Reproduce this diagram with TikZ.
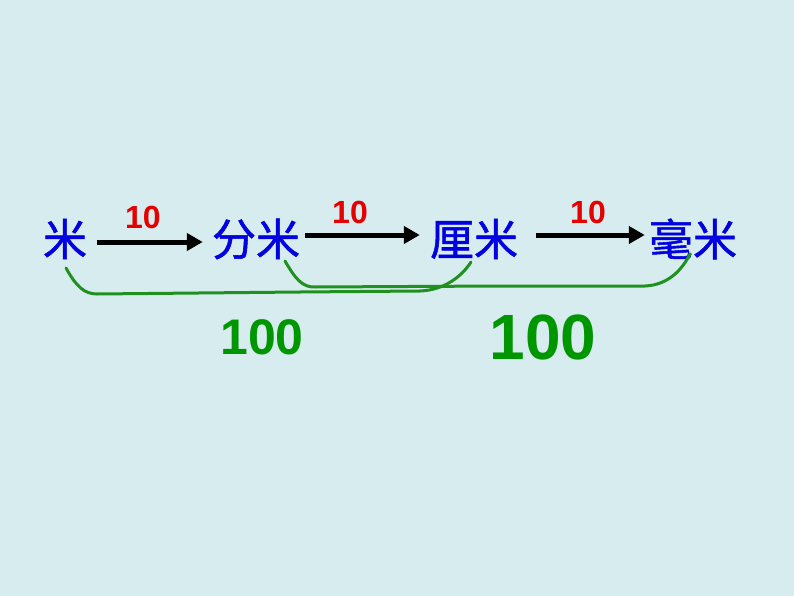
\documentclass[tikz,border=0pt]{standalone}
\usepackage{fontspec}
\usepackage{tikz}
\usetikzlibrary{arrows.meta}
\setmainfont{Liberation Sans}
\newfontfamily\cjk[AutoFakeBold=1.2]{Noto Sans CJK SC}
\definecolor{bgblue}{RGB}{215,236,239}
\definecolor{unitblue}{RGB}{0,0,225}
\definecolor{numred}{RGB}{230,0,0}
\definecolor{linkgreen}{RGB}{30,145,30}
\definecolor{bignumgreen}{RGB}{0,150,0}
\tikzset{
  unit/.style={inner sep=0pt, text=unitblue, font=\cjk\bfseries\fontsize{44}{44}\selectfont},
  num/.style={inner sep=0pt, text=numred, font=\bfseries\fontsize{32}{32}\selectfont},
  arr/.style={line width=5pt, -{Triangle[length=16pt,width=17pt]}},
  link/.style={linkgreen, line width=3pt, line cap=round}
}

\begin{document}
\begin{tikzpicture}[x=1pt,y=-1pt]
    \fill[bgblue] (0,0) rectangle (794,596);
    \useasboundingbox (0,0) rectangle (794,596);
    \node[unit] (mi) at (65,239) {米};
    \node[unit] (fenmi) at (256,239) {分米};
    \node[unit] (limi) at (474,239) {厘米};
    \node[unit] (haomi) at (693,239) {毫米};
    \node[num] (t1) at (143,217) {10};
    \node[num] (t2) at (350,212) {10};
    \node[num] (t3) at (588,212) {10};
    \draw[arr, shorten <=10pt, shorten >=9pt] ([yshift=-3pt]mi.east) -- ([yshift=-3pt]fenmi.west);
    \draw[arr, shorten <=5pt, shorten >=10pt] ([yshift=4pt]fenmi.east) -- ([yshift=4pt]limi.west);
    \draw[arr, shorten <=18pt, shorten >=4pt] ([yshift=4pt]limi.east) -- ([yshift=4pt]haomi.west);
    \coordinate (a0) at (66,268);
    \coordinate (a1) at (471,262);
    \coordinate (b0) at (285,261);
    \coordinate (b1) at (690,254);
    \draw[link] (a0) .. controls (76,286) and (84,294) .. (97,294)
      -- (300,292) -- (420,291) .. controls (445,290) and (462,276) .. (a1);
    \draw[link] (b0) .. controls (295,278) and (302,288) .. (316,287)
      -- (500,286) -- (645,286) .. controls (668,285) and (682,270) .. (b1);
    \node[text=bignumgreen, font=\bfseries\fontsize{50}{50}\selectfont, inner sep=0pt] (s1) at (262,337) {100};
    \node[text=bignumgreen, font=\bfseries\fontsize{64}{64}\selectfont, inner sep=0pt] (s2) at (543,337) {100};
\end{tikzpicture}
\end{document}
